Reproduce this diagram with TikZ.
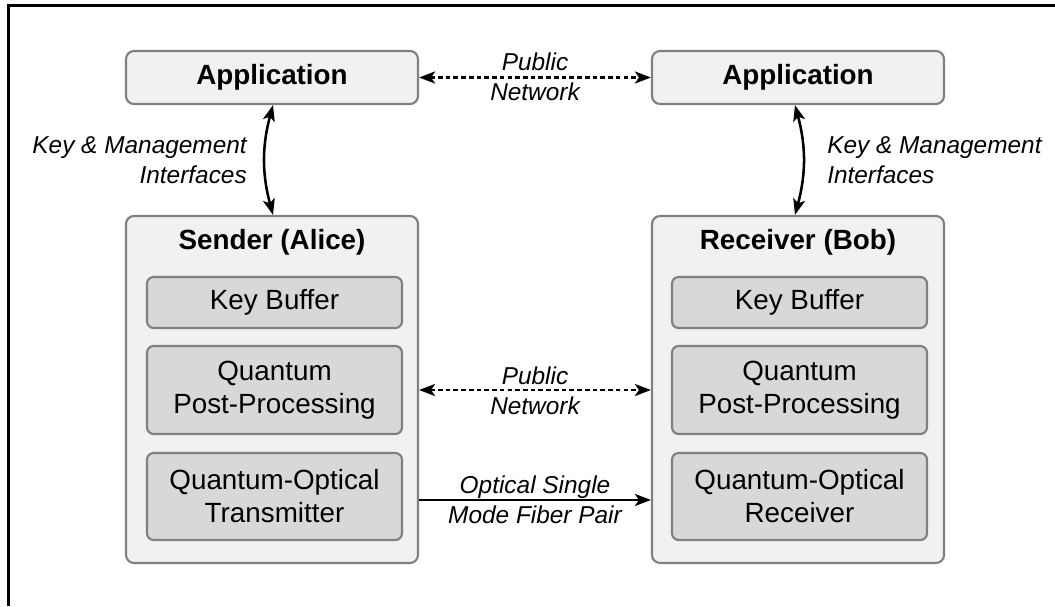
\documentclass[tikz,border=0pt]{standalone}
\usepackage{fontspec}
\setmainfont{Liberation Sans}
\usetikzlibrary{arrows.meta}
\definecolor{outerfill}{HTML}{F1F1F1}
\definecolor{innerfill}{HTML}{D8D8D8}
\definecolor{boxline}{HTML}{808080}
\tikzset{
  appbox/.style={draw=boxline, line width=1.6pt, fill=outerfill, rounded corners=6pt,
    minimum width=219pt, minimum height=39.75pt, inner sep=0pt,
    font=\fontsize{20.85}{24.75}\selectfont\bfseries},
  outerbox/.style={draw=boxline, line width=1.6pt, fill=outerfill, rounded corners=6pt,
    minimum width=219pt, minimum height=260.25pt, inner sep=0pt},
  titletext/.style={font=\fontsize{20.85}{24.75}\selectfont\bfseries, inner sep=0pt},
  innerbox/.style={draw=boxline, line width=1.6pt, fill=innerfill, rounded corners=5pt,
    minimum width=191.25pt, inner sep=0pt, align=center,
    font=\fontsize{20.85}{24.75}\selectfont},
  lbl/.style={font=\fontsize{18.3}{22.5}\selectfont\itshape, inner sep=0pt},
  tip/.style={},
  link/.style={line width=1.9pt, {Stealth[length=12pt,width=9pt,inset=3pt]}-{Stealth[length=12pt,width=9pt,inset=3pt]}},
  dlink/.style={link, dash pattern=on 3.5pt off 2.3pt},
  flink/.style={line width=1.9pt, -{Stealth[length=12pt,width=9pt,inset=3pt]}},
}
\begin{document}
\begin{tikzpicture}[x=0.75pt,y=-0.75pt]
\useasboundingbox (0,0) rectangle (1055,606);
% frame (top and left edges)
\draw[line width=2.4pt] (8.5,606) -- (8.5,5.5) -- (1055,5.5);

% application boxes
\node[appbox] (appL) at (272,77.5) {Application};
\node[appbox] (appR) at (798,77.5) {Application};

% outer boxes
\node[outerbox] (sender) at (272,389.5) {};
\node[outerbox] (receiver) at (798,389.5) {};
\node[titletext] (senderT) at (272,242) {Sender (Alice)};
\node[titletext] (receiverT) at (798,242) {Receiver (Bob)};

% inner boxes left
\node[innerbox, minimum height=38.25pt] (kbL) at (274.5,302.5) {Key Buffer};
\node[innerbox, minimum height=66pt] (ppL) at (274.5,390) {Quantum\\Post-Processing};
\node[innerbox, minimum height=65.25pt] (qoL) at (274.5,496.5) {Quantum-Optical\\Transmitter};
% inner boxes right
\node[innerbox, minimum height=38.25pt] (kbR) at (799.5,302.5) {Key Buffer};
\node[innerbox, minimum height=66pt] (ppR) at (799.5,390) {Quantum\\Post-Processing};
\node[innerbox, minimum height=65.25pt] (qoR) at (799.5,496.5) {Quantum-Optical\\Receiver};

% connectors
\draw[dlink] (appL.east) -- (appR.west);
\node[lbl, align=center] (netTop) at (535,76.5) {Public\\Network};

\draw[dlink] (sender.east |- ppL.center) -- (receiver.west |- ppR.center);
\node[lbl, align=center] (netMid) at (535,391) {Public\\Network};

\draw[flink] ([yshift=-2.6pt]sender.east |- qoL.center) -- ([yshift=-2.6pt]receiver.west |- qoR.center);
\node[lbl, align=center] (fiber) at (535,500) {Optical Single\\Mode Fiber Pair};

\draw[link] ([xshift=0.75pt]appL.south) to[bend right=15] ([xshift=0.75pt]sender.north);
\draw[link] ([xshift=-2.25pt]appR.south) to[bend left=15] ([xshift=-2.25pt]receiver.north);

\node[lbl, align=right, anchor=east] (kmL) at (247,160) {Key \& Management\\Interfaces};
\node[lbl, align=left, anchor=west] (kmR) at (827,160) {Key \& Management\\Interfaces};
\end{tikzpicture}
\end{document}
